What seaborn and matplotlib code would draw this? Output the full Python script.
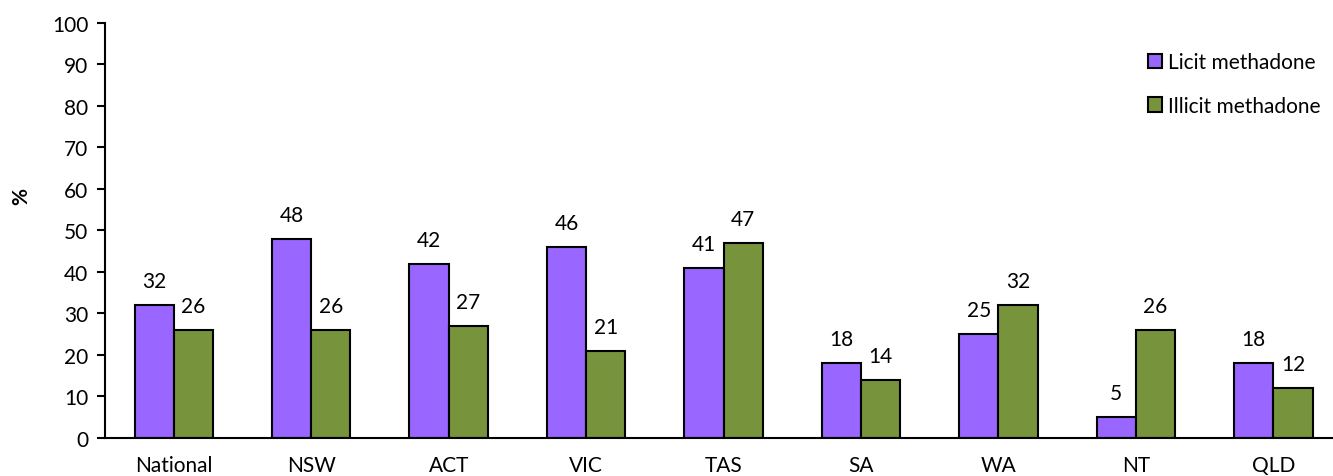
import matplotlib
matplotlib.use("Agg")
import matplotlib.pyplot as plt
import pandas as pd
import seaborn as sns

regions = ["National", "NSW", "ACT", "VIC", "TAS", "SA", "WA", "NT", "QLD"]
licit = [32, 48, 42, 46, 41, 18, 25, 5, 18]
illicit = [26, 26, 27, 21, 47, 14, 32, 26, 12]
series = ["Licit methadone", "Illicit methadone"]
colors = ["#9966FF", "#77933C"]

data = pd.DataFrame({
    "region": regions * 2,
    "value": licit + illicit,
    "type": [series[0]] * len(regions) + [series[1]] * len(regions),
})

sns.set_style("white")
plt.rcParams["font.family"] = ["Lato", "DejaVu Sans"]
plt.rcParams["text.color"] = "black"
plt.rcParams["xtick.color"] = "black"
plt.rcParams["ytick.color"] = "black"
plt.rcParams["axes.labelcolor"] = "black"
fs = 15

fig = plt.figure(figsize=(13.33, 4.77), dpi=100)
# x axis runs a little past the right edge, like the original
ax = fig.add_axes([0.0788, 0.0797, 0.928, 0.870])

sns.barplot(
    data=data, x="region", y="value", hue="type", order=regions,
    hue_order=series, palette=colors, width=0.57, ax=ax,
    edgecolor="black", linewidth=1.5, saturation=1,
)

for cont in ax.containers:
    ax.bar_label(cont, padding=10, fontsize=fs, color="black")

ax.set_ylim(0, 100)
ax.set_yticks(range(0, 101, 10))
ax.set_xlim(-0.5, len(regions) - 0.5)
ax.set_xticks([i - 0.5 for i in range(len(regions) + 1)], minor=True)
ax.tick_params(axis="x", which="major", length=0, labelsize=fs, pad=12)
ax.tick_params(axis="x", which="minor", length=6, width=1.5, direction="out", color="black")
ax.tick_params(axis="y", length=6, width=1.5, direction="out", color="black", labelsize=fs, left=True, pad=6)
ax.set_xlabel("")
ax.set_ylabel("%", fontsize=fs, fontweight="bold")
ax.yaxis.set_label_coords(-0.0595, 0.585)

sns.despine(ax=ax, top=True, right=True)
for s in ["left", "bottom"]:
    ax.spines[s].set_color("black")
    ax.spines[s].set_linewidth(1.5)

leg = ax.legend(
    loc="upper right", bbox_to_anchor=(0.998, 0.975), frameon=False, fontsize=fs,
    handlelength=0.7, handleheight=0.7, handletextpad=0.3, labelspacing=1.15,
)

fig.savefig("out.png", dpi=100)
